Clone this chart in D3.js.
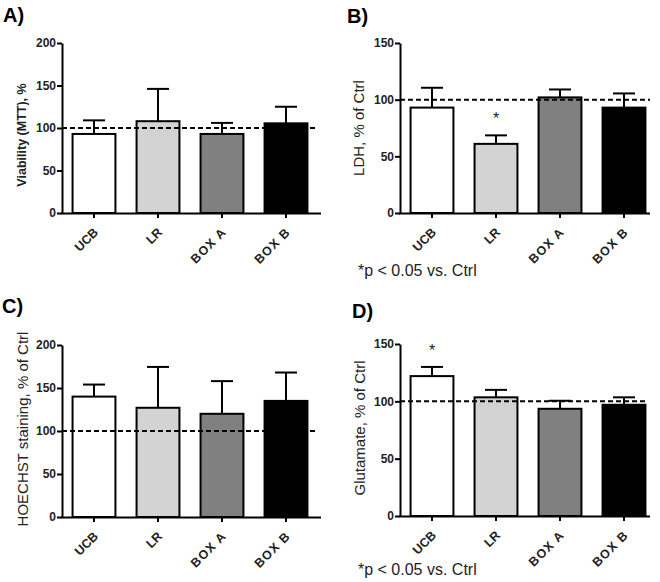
<!DOCTYPE html>
<html>
<head>
<meta charset="utf-8">
<script src="https://cdn.jsdelivr.net/npm/d3@7"></script>
<style>
  body { margin: 0; background: #fff; }
  svg { display: block; }
</style>
</head>
<body>
<div id="chart"></div>
<script>
const categories = ["UCB", "LR", "BOX A", "BOX B"];
const barFills = ["#ffffff", "#d3d3d3", "#808080", "#000000"];

// panel A: viability (MTT)
const viabilityMean = [93, 108, 93, 105.5];
const viabilitySD = [16, 38, 13, 19.5];
// panel B: LDH
const ldhMean = [93, 61, 102, 93];
const ldhSD = [17.5, 7.5, 7, 12.5];
// panel C: HOECHST
const hoechstMean = [140, 127, 120, 135];
const hoechstSD = [14, 47.5, 38, 33];
// panel D: glutamate
const glutamateMean = [122, 103.5, 93.5, 97];
const glutamateSD = [8, 6.5, 7, 6.5];

const ticks200 = [0, 50, 100, 150, 200];
const ticks150 = [0, 50, 100, 150];
const ctrlLevel = 100;
const footnote = "*p < 0.05 vs. Ctrl";

const width = 660, height = 582;
const font = "'Liberation Sans', Arial, sans-serif";

const svg = d3.select("#chart")
  .append("svg")
  .attr("width", width)
  .attr("height", height);

svg.append("rect")
  .attr("width", width)
  .attr("height", height)
  .attr("fill", "white");

const panels = [
  {letter: "A)", lx: 3, ly: 22, x0: 62, y0: 213, yTop: 43, xEnd: 321, dashEnd: 316,
   mean: viabilityMean, sd: viabilitySD, ticks: ticks200,
   title: "Viability (MTT), %", tx: 26, ty: 135, tBold: true, tSize: 12.5,
   stars: [], note: null},
  {letter: "B)", lx: 347, ly: 23, x0: 400, y0: 213, yTop: 43, xEnd: 650, dashEnd: 650,
   mean: ldhMean, sd: ldhSD, ticks: ticks150,
   title: "LDH, % of Ctrl", tx: 364, ty: 128, tBold: false, tSize: 15,
   stars: [1], note: {x: 358, y: 276}},
  {letter: "C)", lx: 2, ly: 313, x0: 62, y0: 517, yTop: 345, xEnd: 321, dashEnd: 315,
   mean: hoechstMean, sd: hoechstSD, ticks: ticks200,
   title: "HOECHST staining, % of Ctrl", tx: 28, ty: 429, tBold: false, tSize: 15,
   stars: [], note: null},
  {letter: "D)", lx: 352, ly: 318, x0: 400, y0: 516, yTop: 344, xEnd: 650, dashEnd: 648,
   mean: glutamateMean, sd: glutamateSD, ticks: ticks150,
   title: "Glutamate, % of Ctrl", tx: 365, ty: 428, tBold: false, tSize: 15,
   stars: [0], note: {x: 358, y: 575}}
];

panels.forEach(p => {
  const g = svg.append("g");
  const data = categories.map((c, i) => ({cat: c, mean: p.mean[i], sd: p.sd[i], fill: barFills[i]}));

  const x = d3.scaleBand()
    .domain(categories)
    .range([p.x0, p.x0 + 256])
    .paddingInner(0.33)
    .paddingOuter(0.165);

  const y = d3.scaleLinear()
    .domain([0, d3.max(p.ticks)])
    .range([p.y0, p.yTop]);

  // panel letter
  g.append("text")
    .attr("x", p.lx)
    .attr("y", p.ly)
    .style("font-family", font)
    .style("font-size", "20px")
    .style("font-weight", "bold")
    .text(p.letter);

  // bars
  g.selectAll("rect.bar")
    .data(data)
    .enter().append("rect")
      .attr("class", "bar")
      .attr("x", d => x(d.cat))
      .attr("y", d => y(d.mean))
      .attr("width", x.bandwidth())
      .attr("height", d => y(0) - y(d.mean))
      .attr("fill", d => d.fill)
      .attr("stroke", "black")
      .attr("stroke-width", 2);

  // error bars (upper only)
  const cap = 11;
  const err = g.selectAll("g.err")
    .data(data)
    .enter().append("g")
      .attr("class", "err")
      .attr("stroke", "black")
      .attr("stroke-width", 2);
  err.append("line")
    .attr("x1", d => x(d.cat) + x.bandwidth() / 2)
    .attr("x2", d => x(d.cat) + x.bandwidth() / 2)
    .attr("y1", d => y(d.mean))
    .attr("y2", d => y(d.mean + d.sd));
  err.append("line")
    .attr("x1", d => x(d.cat) + x.bandwidth() / 2 - cap)
    .attr("x2", d => x(d.cat) + x.bandwidth() / 2 + cap)
    .attr("y1", d => y(d.mean + d.sd))
    .attr("y2", d => y(d.mean + d.sd));

  // control level
  g.append("line")
    .attr("x1", p.x0)
    .attr("x2", p.dashEnd)
    .attr("y1", y(ctrlLevel))
    .attr("y2", y(ctrlLevel))
    .attr("stroke", "black")
    .attr("stroke-width", 2)
    .attr("stroke-dasharray", "5,3");

  // y axis
  g.append("g")
    .attr("transform", `translate(${p.x0},0)`)
    .call(d3.axisLeft(y).tickValues(p.ticks).tickSize(5).tickSizeOuter(0).tickPadding(1))
    .call(a => a.selectAll("path, line").attr("stroke", "black").attr("stroke-width", 2))
    .call(a => a.selectAll("text")
      .style("font-family", font)
      .style("font-size", "12px")
      .style("font-weight", "bold")
      .attr("fill", "#222"));

  // x axis
  g.append("g")
    .attr("transform", `translate(0,${p.y0})`)
    .call(d3.axisBottom(x).tickSize(5).tickSizeOuter(0).tickFormat(""))
    .call(a => a.select(".domain").attr("d", `M${p.x0 - 1},0.5H${p.xEnd}`))
    .call(a => a.selectAll("path, line").attr("stroke", "black").attr("stroke-width", 2));

  g.selectAll("text.xlab")
    .data(categories)
    .enter().append("text")
      .attr("class", "xlab")
      .attr("transform", d => `translate(${x(d) + x.bandwidth() / 2 + 5},${p.y0 + 20}) rotate(-45)`)
      .attr("text-anchor", "end")
      .style("font-family", font)
      .style("font-size", "12.5px")
      .style("font-weight", "bold")
      .style("letter-spacing", d => d.startsWith("BOX") ? "1px" : "0px")
      .attr("fill", "#222")
      .text(d => d);

  // y title
  g.append("text")
    .attr("transform", `translate(${p.tx},${p.ty}) rotate(-90)`)
    .attr("text-anchor", "middle")
    .style("font-family", font)
    .style("font-size", p.tSize + "px")
    .style("font-weight", p.tBold ? "bold" : "normal")
    .attr("fill", "#222")
    .text(p.title);

  // significance marks
  g.selectAll("text.star")
    .data(p.stars.map(i => data[i]))
    .enter().append("text")
      .attr("class", "star")
      .attr("x", d => x(d.cat) + x.bandwidth() / 2)
      .attr("y", d => y(d.mean + d.sd) - 11)
      .attr("text-anchor", "middle")
      .style("font-family", font)
      .style("font-size", "16px")
      .attr("fill", "#222")
      .text("*");

  if (p.note) {
    g.append("text")
      .attr("x", p.note.x)
      .attr("y", p.note.y)
      .style("font-family", font)
      .style("font-size", "16px")
      .attr("fill", "#222")
      .text(footnote);
  }
});
</script>
</body>
</html>
